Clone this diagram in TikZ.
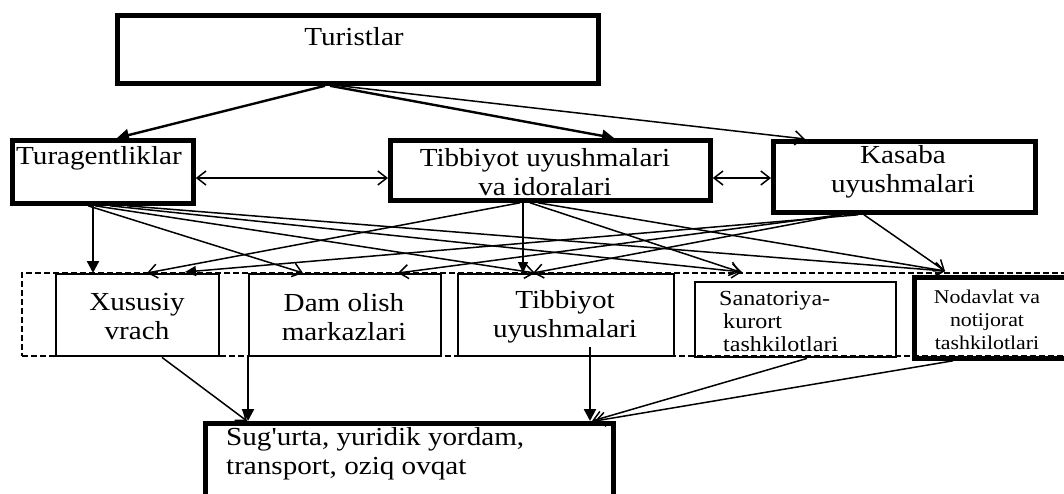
\documentclass[tikz,border=0pt]{standalone}
\usepackage{fontspec}
\setmainfont{Liberation Serif}[FakeStretch=1.12, Ligatures=TeXOff]
\usetikzlibrary{arrows.meta,calc}
\begin{document}
\begin{tikzpicture}[x=1pt,y=-1pt,
  thickbox/.style={draw, line width=4.8pt, anchor=north west, inner sep=0pt},
  thinbox/.style={draw, line width=2.4pt, anchor=north west, inner sep=0pt},
  groupbox/.style={draw, line width=2pt, dash pattern=on 6pt off 3pt, anchor=north west, inner sep=0pt},
  txt/.style={inner sep=0pt, font=\fontsize{26}{29}\selectfont, align=center},
  smalltxt/.style={inner sep=0pt, font=\fontsize{21.5}{23}\selectfont, align=left},
  tinytxt/.style={inner sep=0pt, font=\fontsize{19.5}{23}\selectfont, align=center},
  openarr/.style={-{Straight Barb[length=9pt,width=14pt]}, line width=1.5pt},
  fillarr/.style={-{Triangle[length=12pt,width=12pt]}, line width=2.4pt},
  midarr/.style={-{Triangle[length=11pt,width=10pt]}, line width=1.5pt},
  dblarr/.style={{Straight Barb[length=9pt,width=14pt]}-{Straight Barb[length=9pt,width=14pt]}, line width=1.5pt}
]
\useasboundingbox (0,0) rectangle (1064,494);

% boxes
\node[thickbox, minimum width=481pt, minimum height=68pt] (tur) at (115,13) {};
\node[thickbox, minimum width=181pt, minimum height=63pt] (tag) at (10,138) {};
\node[thickbox, minimum width=320pt, minimum height=60pt] (tib) at (388,138) {};
\node[thickbox, minimum width=262pt, minimum height=71pt] (kas) at (771,139) {};
\node[groupbox, minimum width=1048pt, minimum height=83pt] (grp) at (21,272) {};
\node[thinbox, minimum width=163pt, minimum height=82pt] (xus) at (55,273) {};
\node[thinbox, minimum width=192pt, minimum height=82pt] (dam) at (248,273) {};
\node[thinbox, minimum width=216pt, minimum height=82pt] (tib2) at (457,273) {};
\node[thinbox, minimum width=201pt, minimum height=75pt] (san) at (694,281) {};
\node[thickbox, minimum width=152pt, minimum height=81pt] (nod) at (912,275) {};
\node[thickbox, minimum width=408pt, minimum height=90pt] (sug) at (203,421) {};

% texts
\node[txt] (t-tur) at (354,37) {Turistlar};
\node[txt, anchor=west] (t-tag) at (16,158) {Turagentliklar};
\node[txt] (t-tib) at (545,172) {Tibbiyot uyushmalari\\va idoralari};
\node[txt] (t-kas) at (903,172) {Kasaba\\uyushmalari};
\node[txt] (t-xus) at (137,317) {Xususiy\\vrach};
\node[txt] (t-dam) at (344,317) {Dam olish\\markazlari};
\node[txt] (t-tib2) at (565,317) {Tibbiyot\\uyushmalari};
\node[smalltxt, anchor=west] (t-san) at (719,321) {Sanatoriya-\\\hspace*{4pt}kurort\\\hspace*{4pt}tashkilotlari};
\node[tinytxt] (t-nod) at (987,320) {Nodavlat va\\notijorat\\tashkilotlari};
\node[txt, anchor=west, align=left] (t-sug) at (226,454) {Sug'urta, yuridik yordam,\\transport, oziq ovqat};

% Turistlar -> second row
\draw[fillarr] ([xshift=210pt]tur.south west) -- ([xshift=107pt]tag.north west);
\draw[fillarr] ([xshift=215pt]tur.south west) -- ([xshift=226pt]tib.north west);
\draw[openarr] ([xshift=225pt]tur.south west) -- ([xshift=34pt]kas.north west);

% double arrows
\draw[dblarr] ($(tag.north east)+(0,40)$) -- ($(tib.north west)+(0,40)$);
\draw[dblarr] ($(tib.north east)+(0,40)$) -- ($(kas.north west)+(0,39)$);

% Turagentliklar -> third row
\draw[fillarr] ([xshift=83pt]tag.south west) -- ([xshift=38pt]xus.north west);
\draw[openarr] ([xshift=78pt]tag.south west) -- ([xshift=55pt]dam.north west);
\draw[openarr] ([xshift=85pt]tag.south west) -- ([xshift=78pt]tib2.north west);
\draw[openarr] ([xshift=100pt]tag.south west) -- ($(san.north west)+(48,-9)$);
\draw[openarr] ([xshift=117pt]tag.south west) -- ($(nod.north west)+(33,-4)$);

% Tibbiyot uyushmalari va idoralari -> third row
\draw[openarr] ([xshift=132pt]tib.south west) -- ([xshift=92pt]xus.north west);
\draw[midarr] ([xshift=135pt]tib.south west) -- ([xshift=66pt]tib2.north west);
\draw[openarr] ([xshift=142pt]tib.south west) -- ($(san.north west)+(46,-9)$);
\draw[openarr] ([xshift=150pt]tib.south west) -- ($(nod.north west)+(33,-4)$);

% Kasaba -> third row
\draw[openarr] ([xshift=69pt]kas.south west) -- ([xshift=150pt]dam.north west);
\draw[openarr] ([xshift=71pt]kas.south west) -- ([xshift=76pt]tib2.north west);
\draw[midarr] ([xshift=87pt]kas.south west) -- ([xshift=164pt]grp.north west);
\draw[openarr] ([xshift=93pt]kas.south west) -- ($(nod.north west)+(33,-4)$);

% third row -> bottom box
\draw[openarr] ([xshift=107pt]xus.south west) -- ([xshift=44pt]sug.north west);
\draw[fillarr] (dam.south west) -- ([xshift=45pt]sug.north west);
\draw[fillarr] ($(tib2.south west)+(133,-10)$) -- ([xshift=387pt]sug.north west);
\draw[openarr] ([xshift=113pt]san.south west) -- ([xshift=389pt]sug.north west);
\draw[openarr] ([xshift=41pt]nod.south west) -- ([xshift=392pt]sug.north west);
\end{tikzpicture}
\end{document}
